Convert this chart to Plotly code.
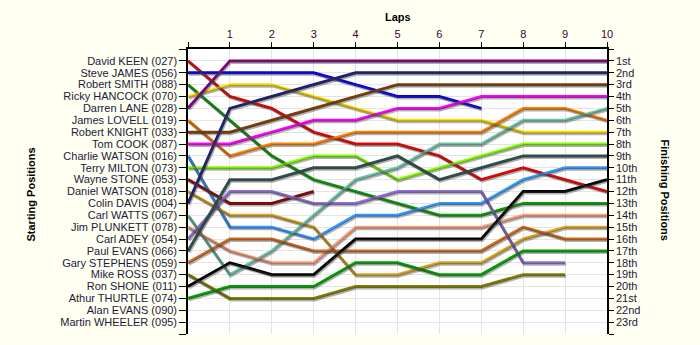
import plotly.graph_objects as go

laps = list(range(0, 11))

drivers = [
    "David KEEN (027)", "Steve JAMES (056)", "Robert SMITH (088)", "Ricky HANCOCK (070)",
    "Darren LANE (028)", "James LOVELL (019)", "Robert KNIGHT (033)", "Tom COOK (087)",
    "Charlie WATSON (016)", "Terry MILTON (073)", "Wayne STONE (053)", "Daniel WATSON (018)",
    "Colin DAVIS (004)", "Carl WATTS (067)", "Jim PLUNKETT (078)", "Carl ADEY (054)",
    "Paul EVANS (066)", "Gary STEPHENS (059)", "Mike ROSS (037)", "Ron SHONE (011)",
    "Athur THURTLE (074)", "Alan EVANS (090)", "Martin WHEELER (095)",
]

finish_labels = ["1st", "2nd", "3rd", "4th", "5th", "6th", "7th", "8th", "9th", "10th",
                 "11th", "12th", "13th", "14th", "15th", "16th", "17th", "18th", "19th",
                 "20th", "21st", "22nd", "23rd"]

# positions per lap (lap 0 = starting grid)
pos_keen     = [1, 4, 5, 7, 8, 8, 9, 11, 10, 11, 12]
pos_james    = [2, 2, 2, 2, 3, 4, 4, 5]
pos_smith    = [3, 6, 9, 11, 12, 13, 14, 14, 13, 13, 13]
pos_hancock  = [4, 3, 3, 4, 5, 6, 6, 6, 7, 7, 7]
pos_lane     = [5, 1, 1, 1, 1, 1, 1, 1, 1, 1, 1]
pos_lovell   = [6, 9, 8, 8, 7, 7, 7, 7, 5, 5, 6]
pos_knight   = [7, 7, 6, 5, 4, 3, 3, 3, 3, 3, 3]
pos_cook     = [8, 8, 7, 6, 6, 5, 5, 4, 4, 4, 4]
pos_cwatson  = [9, 15, 15, 16, 14, 14, 13, 13, 11, 10, 10]
pos_milton   = [10, 10, 10, 9, 9, 11, 10, 9, 8, 8, 8]
pos_stone    = [11, 13, 13, 12]
pos_dwatson  = [12, 14, 14, 15, 19, 19, 18, 18, 16, 15, 15]
pos_davis    = [13, 5, 4, 3, 2, 2, 2, 2, 2, 2, 2]
pos_watts    = [14, 19, 17, 14, 11, 10, 8, 8, 6, 6, 5]
pos_plunkett = [15, 17, 18, 18, 15, 15, 15, 15, 14, 14, 14]
pos_adey     = [16, 12, 12, 13, 13, 12, 12, 12, 18, 18]
pos_pevans   = [17, 11, 11, 10, 10, 9, 11, 10, 9, 9, 9]
pos_stephens = [18, 16, 16, 17, 17, 17, 17, 17, 15, 16, 16]
pos_ross     = [19, 21, 21, 21, 20, 20, 20, 20, 19, 19]
pos_shone    = [20, 18, 19, 19, 16, 16, 16, 16, 12, 12, 11]
pos_thurtle  = [21, 20, 20, 20, 18, 18, 19, 19, 17, 17, 17]

series = [
    ("David KEEN (027)", pos_keen, "#ee0000"),
    ("Steve JAMES (056)", pos_james, "#0000ee"),
    ("Robert SMITH (088)", pos_smith, "#0a9a0a"),
    ("Ricky HANCOCK (070)", pos_hancock, "#ffe000"),
    ("Darren LANE (028)", pos_lane, "#800080"),
    ("James LOVELL (019)", pos_lovell, "#ff8000"),
    ("Robert KNIGHT (033)", pos_knight, "#7a3d0a"),
    ("Tom COOK (087)", pos_cook, "#ff00ff"),
    ("Charlie WATSON (016)", pos_cwatson, "#3399ff"),
    ("Terry MILTON (073)", pos_milton, "#80ff00"),
    ("Wayne STONE (053)", pos_stone, "#8b0000"),
    ("Daniel WATSON (018)", pos_dwatson, "#daa520"),
    ("Colin DAVIS (004)", pos_davis, "#1e1e70"),
    ("Carl WATTS (067)", pos_watts, "#6cc4a4"),
    ("Jim PLUNKETT (078)", pos_plunkett, "#ffa07a"),
    ("Carl ADEY (054)", pos_adey, "#9370db"),
    ("Paul EVANS (066)", pos_pevans, "#2f4f4f"),
    ("Gary STEPHENS (059)", pos_stephens, "#d2691e"),
    ("Mike ROSS (037)", pos_ross, "#808000"),
    ("Ron SHONE (011)", pos_shone, "#000000"),
    ("Athur THURTLE (074)", pos_thurtle, "#00a000"),
]

W, H = 700, 345
ML, MR, MT, MB = 188, 93, 49, 11
pw, ph = W - ML - MR, H - MT - MB
xr = [0, 10]
yr = [24, 0]
dx = 1.0 * (xr[1] - xr[0]) / pw
dy = 1.5 * (yr[0] - yr[1]) / ph

fig = go.Figure()

# shadows (same data, on a slightly shifted overlay axis)
for name, ys, col in series:
    fig.add_trace(go.Scatter(x=laps[:len(ys)], y=ys, mode="lines",
                             line=dict(color="rgba(60,60,60,0.4)", width=3),
                             xaxis="x2", yaxis="y2", hoverinfo="skip", showlegend=False))
for name, ys, col in series:
    fig.add_trace(go.Scatter(x=laps[:len(ys)], y=ys, mode="lines", name=name,
                             line=dict(color=col, width=3), showlegend=False))

# invisible trace for the right axis
fig.add_trace(go.Scatter(x=[None], y=[None], yaxis="y3", showlegend=False))

font = "Liberation Sans, Arial, sans-serif"
left_ticks = list(range(0, 25))
left_text = [""] + drivers + [""]
right_text = [""] + finish_labels + [""]

fig.update_layout(
    width=W, height=H,
    margin=dict(l=ML, r=MR, t=MT, b=MB),
    paper_bgcolor="#fffff2",
    plot_bgcolor="#ffffff",
    font=dict(family=font, size=11, color="#1a1a3a"),
    xaxis=dict(range=xr, side="top", tickvals=laps,
               ticktext=[""] + [str(i) for i in laps[1:]],
               ticks="outside", ticklen=5, tickcolor="black",
               tickfont=dict(color="#400040", size=11),
               showline=True, linecolor="black", linewidth=1.5,
               showgrid=True, gridcolor="#e4e4e4", gridwidth=1, zeroline=False),
    yaxis=dict(range=yr, tickvals=left_ticks, ticktext=left_text,
               ticks="outside", ticklen=7, tickcolor="black",
               showline=True, linecolor="black", linewidth=1.5,
               showgrid=True, gridcolor="#e4e4e4", gridwidth=1, zeroline=False,
               tickfont=dict(size=11, color="#1a1a3a")),
    xaxis2=dict(range=[xr[0] - dx, xr[1] - dx], overlaying="x", visible=False),
    yaxis2=dict(range=[yr[0] - dy, yr[1] - dy], overlaying="y", visible=False),
    yaxis3=dict(range=yr, overlaying="y", side="right", anchor="x",
                tickvals=left_ticks, ticktext=right_text,
                ticks="outside", ticklen=5, tickcolor="black",
                showline=True, linecolor="black", linewidth=1.5,
                showgrid=False, zeroline=False,
                tickfont=dict(size=11, color="#1a1a3a")),
    annotations=[
        dict(text="<b>Laps</b>", xref="paper", yref="paper", x=0.5, y=1,
             yanchor="middle", yshift=32,
             showarrow=False, font=dict(size=11, color="black", family=font)),
        dict(text="<b>Starting Positions</b>", xref="paper", yref="paper",
             x=0, xshift=-166, y=0.5, yshift=-3, textangle=-90, showarrow=False,
             font=dict(size=11, color="black", family=font)),
        dict(text="<b>Finishing Positions</b>", xref="paper", yref="paper",
             x=1, xshift=66, y=0.5, yshift=2, textangle=90, showarrow=False,
             font=dict(size=11, color="black", family=font)),
    ],
)

fig.write_html("out.html")
